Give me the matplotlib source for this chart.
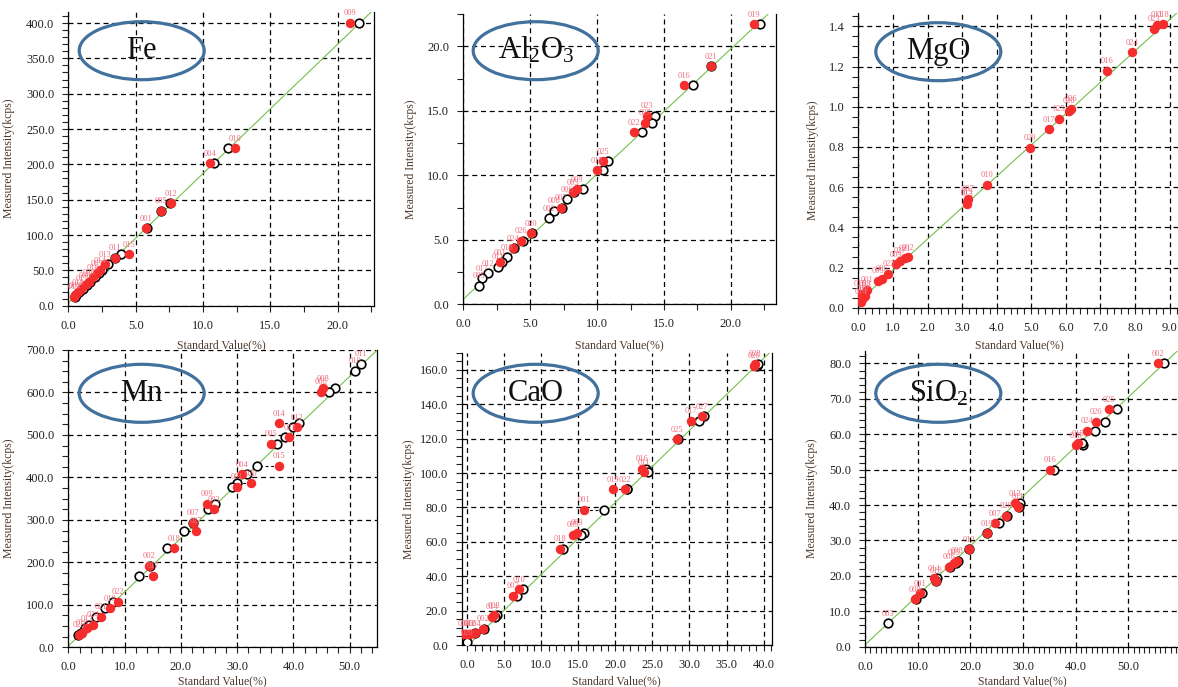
import numpy as np
import matplotlib
matplotlib.use("Agg")
import matplotlib.pyplot as plt
from matplotlib.patches import Ellipse
from matplotlib.ticker import MultipleLocator, AutoMinorLocator, FormatStrFormatter

plt.rcParams['font.family'] = ['Liberation Serif', 'DejaVu Serif']
plt.rcParams['mathtext.fontset'] = 'custom'
plt.rcParams['mathtext.rm'] = 'Liberation Serif'
plt.rcParams['mathtext.it'] = 'Liberation Serif:italic'

W, H = 1178, 687
nan = np.nan

# ---- Fe ----
fe_labels = ["009", "010", "004", "012", "005", "001", "015", "011", "013", "014",
             "007", "016", "008", "006", "017", "018", "002", "019"]
fe_std = [20.9, 12.4, 10.55, 7.65, 6.85, 5.75, 4.48, 3.45, 2.75, 2.35,
          2.15, 1.85, 1.5, 1.25, 0.98, 0.72, 0.5, 0.42]
fe_calc = [21.6, 11.85, 10.8, 7.55, 6.88, 5.85, 3.95, 3.5, 2.98, 2.51,
           2.3, 1.97, 1.58, 1.37, 1.09, 0.82, 0.6, 0.49]
fe_int = [400, 223, 201.5, 145, 134, 109.5, 72.5, 68, 58.5, 50,
          46, 40, 33, 29, 24, 19, 15, 13]
fe_fit = (18.3, 4.0)

# ---- Al2O3 ----
al_labels = ["019", "021", "016", "023", "027", "022", "025", "015", "009", "003",
             "006", "007", "008", "002", "020", "026", "024", "018", "001", "011",
             "012", "017", "005"]
al_std = [21.72, 18.5, 16.49, 13.7, 13.57, 12.75, 10.41, 10.0, 8.47, 8.22,
          nan, 7.27, nan, nan, 5.03, 4.28, 3.74, nan, 2.74, nan,
          nan, nan, nan]
al_calc = [22.17, 18.55, 17.14, 14.32, 14.12, 13.37, 10.81, 10.46, 8.97, 8.3,
           7.72, 7.35, 6.77, 6.4, 5.1, 4.48, 3.8, 3.29, 2.9, 2.6,
           1.87, 1.42, 1.17]
al_int = [21.7, 18.45, 16.98, 14.6, 14.09, 13.32, 11.1, 10.4, 8.93, 8.67,
          8.15, 7.5, 7.25, 6.66, 5.5, 4.93, 4.34, 3.64, 3.25, 2.9,
          2.4, 2.0, 1.42]
al_fit = (0.97, 0.4)

# ---- MgO (only red points visible) ----
mg_labels = ["018", "011", "023", "024", "016", "026", "028", "025", "017", "029",
             "010", "007", "013", "019", "002", "021", "027", "009", "022", "006",
             "005", "001", "003", "012", "014", "015", "020"]
mg_std = [8.8, 8.63, 8.56, 7.91, 7.2, 6.15, 6.1, 5.81, 5.51, 4.97,
          3.71, 3.16, 3.13, 3.14, 1.42, 1.35, 1.2, 1.09, 0.87, 0.67,
          0.58, 0.24, 0.19, 0.13, 0.07, 0.05, 0.2]
mg_int = [1.41, 1.407, 1.387, 1.271, 1.178, 0.989, 0.98, 0.94, 0.887, 0.797,
          0.612, 0.541, 0.516, 0.528, 0.25, 0.245, 0.234, 0.216, 0.168, 0.143,
          0.135, 0.088, 0.071, 0.046, 0.03, 0.07, 0.06]
mg_fit = (0.156, 0.03)

# ---- Mn ----
mn_labels = ["011", "010", "008", "006", "014", "012", "023", "005", "015", "004",
             "020", "001", "009", "003", "007", "027", "018", "002", "017", "022",
             "019", "021", "024", "013", "016", "025"]
mn_std = [nan, nan, 45.3, 44.9, 37.4, 40.7, 39.3, 36.1, 37.4, 30.8,
          32.5, 30.0, 24.7, 25.9, 22.1, 22.7, 18.8, 14.3, 15.0, 8.8,
          7.4, 5.8, 4.4, 3.3, 2.4, 1.9]
mn_calc = [52.07, 51.0, 47.4, 46.4, 40.9, 39.9, 38.5, 37.0, 33.5, 31.7,
           29.9, 29.1, 26.0, 24.8, 22.2, 20.6, 17.5, 14.5, 12.6, 8.0,
           6.5, 5.0, 3.6, 2.9, 2.3, 1.8]
mn_int = [667, 651, 610, 601, 527, 518, 494, 479, 427, 407,
          386, 378, 337.5, 325, 293.6, 274, 233, 192.3, 169, 107.5,
          91.8, 72.2, 52.6, 44.7, 34.5, 29]
mn_fit = (12.7, 3.0)

# ---- CaO ----
ca_labels = ["026", "028", "027", "017", "025", "016", "011", "019", "022", "001",
             "009", "005", "018", "010", "007", "003", "014", "002", "004", "008",
             "006", "012", "020"]
ca_std = [38.65, 38.9, 31.7, 30.2, 28.3, 23.65, 23.9, 19.7, 21.3, 15.8,
          14.8, 14.3, 12.5, 7.03, 6.13, 3.6, 3.3, 2.07, 1.04, -0.45,
          0.0, 0.36, nan]
ca_calc = [39.1, 39.2, 31.95, 31.25, 28.5, 24.1, 24.35, 21.6, 21.6, 18.5,
           15.7, 15.3, 12.97, 7.57, 6.76, 4.05, 3.8, 2.2, 1.1, nan,
           nan, nan, 0.0]
ca_int = [162.5, 163.5, 132.9, 130.3, 119.7, 102.5, 100.5, 90.6, 90.6, 78.5,
          65.4, 64, 55.9, 32.4, 28.5, 17.3, 16.5, 9.5, 6.8, 6.6,
          6.6, 6.6, 1.5]
ca_fit = (4.18, -0.6)

# ---- SiO2 ----
si_labels = ["002", "025", "026", "024", "018", "015", "016", "013", "011", "020",
             "007", "019", "012", "008", "005", "006", "014", "010", "001", "009",
             "003"]
si_std = [55.7, 46.3, 43.9, 42.1, 40.1, 40.5, 35.1, 28.5, 29.1, 26.8,
          24.7, 23.1, 19.7, 17.4, 16.9, 16.0, 13.1, 13.4, 10.4, 9.5,
          nan]
si_calc = [56.8, 47.8, 45.6, 43.7, 41.3, 41.2, 35.9, 29.4, 29.2, 26.9,
           25.5, 23.2, 19.8, 17.7, 17.2, 16.1, 13.7, 13.5, 10.8, 9.6,
           4.43]
si_int = [80, 67, 63.5, 61, 56.9, 57.4, 49.9, 40.5, 39.5, 37,
          34.8, 32, 27.5, 24.3, 23.7, 22.6, 19.3, 18.6, 15.1, 13.4,
          6.6]
si_fit = (1.40, 0.5)

RED = "#f52d2d"
PINK = "#f07080"
GREEN = "#74c04c"
BLUE = "#41719c"
LABC = "#4d3a2e"

fig = plt.figure(figsize=(W / 100, H / 100), dpi=100)


def panel(box, labels, std, calc, inten, fit, xlim, ylim, xstep, xminor,
          ystep, yminor, name, ell_c, ylab_x, xlab_y):
    l, t, r, b = box
    ax = fig.add_axes([l / W, 1 - b / H, (r - l) / W, (b - t) / H])
    ax.set_xlim(*xlim)
    ax.set_ylim(*ylim)
    ax.set_axisbelow(True)
    ax.grid(True, which='major', color='k', ls=(0, (4, 3)), lw=0.9)
    ax.spines['top'].set_visible(False)
    for s in ['left', 'bottom', 'right']:
        ax.spines[s].set_linewidth(0.9)
    ax.xaxis.set_major_locator(MultipleLocator(xstep))
    ax.yaxis.set_major_locator(MultipleLocator(ystep))
    ax.xaxis.set_minor_locator(AutoMinorLocator(xminor))
    ax.yaxis.set_minor_locator(AutoMinorLocator(yminor))
    ax.xaxis.set_major_formatter(FormatStrFormatter('%.1f'))
    ax.yaxis.set_major_formatter(FormatStrFormatter('%.1f'))
    ax.tick_params(which='both', direction='out', length=4, width=0.8,
                   labelsize=9, pad=6, colors='#222222')

    xs = np.array(xlim, dtype=float)
    ax.plot(xs, fit[0] * xs + fit[1], color=GREEN, lw=0.8, zorder=2)

    std = np.asarray(std, dtype=float)
    inten = np.asarray(inten, dtype=float)
    if calc is not None:
        calc = np.asarray(calc, dtype=float)
        for xs_, xc_, y_ in zip(std, calc, inten):
            if not np.isnan(xs_) and not np.isnan(xc_):
                ax.plot([xs_, xc_], [y_, y_], color='k', ls=(0, (2.5, 2.5)),
                        lw=0.8, zorder=3)
        ax.plot(calc, inten, 'o', ms=6.2, mfc='white', mec='k', mew=1.2,
                ls='none', zorder=4)
    ax.plot(std, inten, 'o', ms=5.8, color=RED, mec=RED, ls='none', zorder=5)

    for i, lab in enumerate(labels):
        x = std[i]
        if np.isnan(x):
            x = calc[i]
        ax.annotate(lab, (x, inten[i]), xytext=(0, 4), textcoords='offset points',
                    ha='center', va='bottom', fontsize=6, color=PINK, zorder=6)

    ax.set_ylabel("Measured Intensity(kcps)", fontsize=8.5, color=LABC)
    ax.set_xlabel("Standard Value(%)", fontsize=8.5, color=LABC)
    ax.yaxis.set_label_coords((ylab_x - l) / (r - l), 0.5)
    ax.xaxis.set_label_coords(0.5, (b - xlab_y) / (b - t))

    cx, cy = ell_c
    fig.add_artist(Ellipse((cx / W, 1 - cy / H), 125 / W, 58 / H,
                           transform=fig.transFigure, fill=False,
                           edgecolor=BLUE, lw=2.3))
    fig.text(cx / W, 1 - cy / H, name, ha='center', va='center',
             fontsize=22, color='#111111')
    return ax


panel((68.3, 11.7, 374, 305.7), fe_labels, fe_std, fe_calc, fe_int, fe_fit,
      (0, 22.7), (0, 416), 5, 2, 50, 5, "Fe", (141.7, 50.7), 15, 339)
panel((463.3, 14, 775.7, 304.3), al_labels, al_std, al_calc, al_int, al_fit,
      (0, 23.35), (0, 22.5), 5, 2, 5, 2, "Al$_2$O$_3$", (535.7, 50.7), 416.7, 339)
panel((858.4, 12.7, 1180, 307.7), mg_labels, mg_std, None, mg_int, mg_fit,
      (0, 9.3), (0, 1.468), 1, 5, 0.2, 4, "MgO", (938.3, 51.7), 819.3, 339)
panel((68.3, 350, 377.3, 647.3), mn_labels, mn_std, mn_calc, mn_int, mn_fit,
      (0, 54.9), (0, 700), 10, 5, 100, 4, "Mn", (141.7, 393.3), 15, 675)
panel((461.7, 352.7, 771.7, 645), ca_labels, ca_std, ca_calc, ca_int, ca_fit,
      (-0.76, 41.1), (0, 170), 5, 5, 20, 4, "CaO", (535.7, 393.3), 415, 675)
panel((865, 350.7, 1180, 646.7), si_labels, si_std, si_calc, si_int, si_fit,
      (0, 59.8), (0, 83.6), 10, 10, 10, 5, "SiO$_2$", (938.3, 393.3), 818.3, 675)

fig.savefig("out.png", dpi=100)
